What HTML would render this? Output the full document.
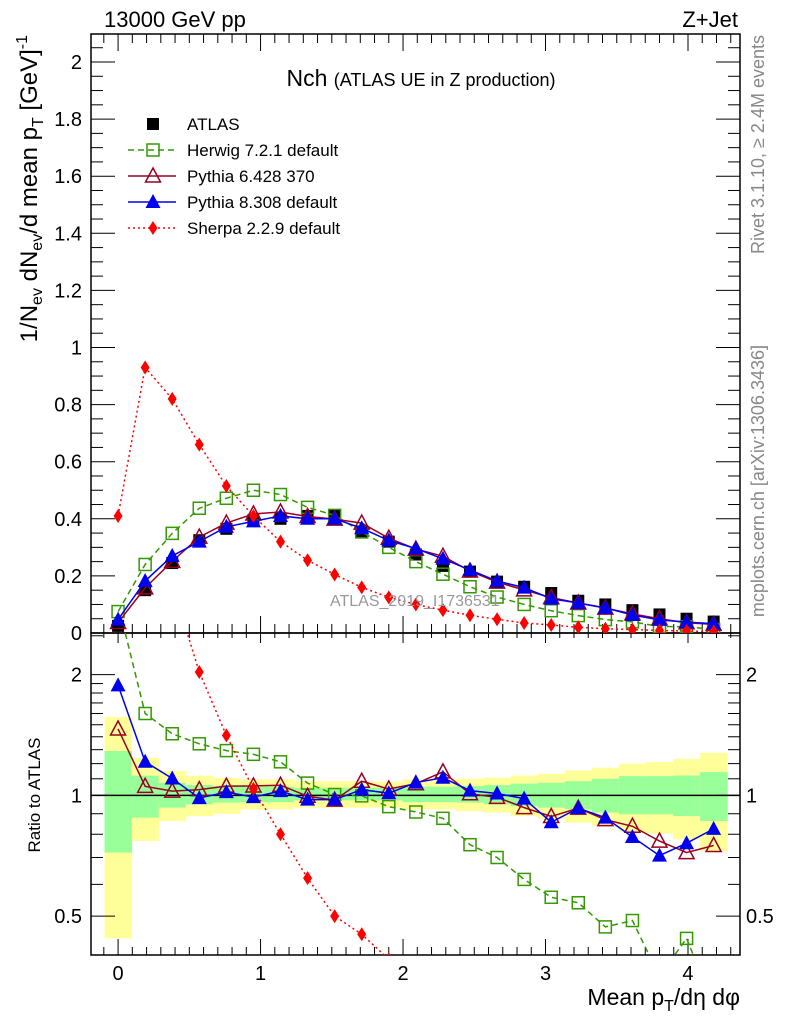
<!DOCTYPE html>
<html><head><meta charset="utf-8"><style>
html,body{margin:0;padding:0;background:#fff;overflow:hidden;width:786px;height:1024px;}
svg{display:block;font-family:"Liberation Sans","DejaVu Sans",sans-serif;}
</style></head><body>
<svg id="chart" width="786" height="1024" viewBox="0 0 786 1024" xmlns="http://www.w3.org/2000/svg">
</svg>
<script>
const xs = [0,0.19,0.38,0.57,0.76,0.95,1.14,1.33,1.52,1.71,1.9,2.09,2.28,2.47,2.66,2.85,3.04,3.23,3.42,3.61,3.8,3.99,4.18];
const atlas = [0.025,0.15,0.245,0.325,0.365,0.395,0.40,0.41,0.41,0.355,0.32,0.275,0.235,0.215,0.18,0.162,0.14,0.113,0.10,0.08,0.065,0.05,0.04];
const herwig = [0.075,0.24,0.349,0.437,0.472,0.50,0.485,0.44,0.412,0.354,0.30,0.25,0.206,0.162,0.126,0.10,0.078,0.061,0.047,0.039,0.023,0.022,0.012];
const pythia6 = [0.0366,0.158,0.251,0.336,0.385,0.417,0.424,0.408,0.399,0.385,0.332,0.294,0.269,0.217,0.178,0.151,0.124,0.105,0.087,0.067,0.050,0.036,0.030];
const pythia8 = [0.047,0.182,0.27,0.32,0.372,0.391,0.41,0.40,0.40,0.367,0.324,0.296,0.26,0.221,0.182,0.159,0.12,0.105,0.088,0.063,0.046,0.038,0.033];
const sherpa = [0.41,0.93,0.82,0.66,0.515,0.41,0.32,0.255,0.205,0.16,0.125,0.10,0.08,0.062,0.048,0.035,0.028,0.02,0.015,0.012,0.009,0.007,0.005];
const yellowUp = [1.57,1.24,1.15,1.12,1.105,1.096,1.096,1.085,1.085,1.085,1.081,1.096,1.096,1.10,1.107,1.121,1.132,1.154,1.172,1.20,1.21,1.234,1.277];
const yellowDn = [0.44,0.77,0.863,0.888,0.899,0.923,0.923,0.932,0.932,0.932,0.932,0.923,0.923,0.914,0.906,0.888,0.875,0.855,0.839,0.811,0.803,0.777,0.727];
const greenUp = [1.29,1.12,1.075,1.061,1.055,1.051,1.051,1.045,1.045,1.045,1.045,1.051,1.051,1.055,1.061,1.07,1.075,1.085,1.10,1.117,1.117,1.121,1.143];
const greenDn = [0.72,0.88,0.932,0.95,0.959,0.962,0.962,0.972,0.972,0.972,0.972,0.962,0.962,0.959,0.95,0.94,0.932,0.923,0.906,0.897,0.897,0.888,0.863];
const mainTicks = ["0","0.2","0.4","0.6","0.8","1","1.2","1.4","1.6","1.8","2"];
const xTicks = ["0","1","2","3","4"];
const ratioTicks = ["0.5","1","2"];

const svg = document.getElementById('chart');
const NS = 'http://www.w3.org/2000/svg';
const L=91, R=740, T=34, MB=633, RB=955;
const XMIN=-0.19, XMAX=4.365;
const X = v => L + (v - XMIN) / (XMAX - XMIN) * (R - L);
const YM = v => MB - v * 285.5;
const RMIN=0.40, RMAX=2.54;
const YR = r => RB - (Math.log(r) - Math.log(RMIN)) / (Math.log(RMAX) - Math.log(RMIN)) * (RB - MB);
const step = xs[1]-xs[0];

function mk(tag, attrs, parent){
  const e = document.createElementNS(NS, tag);
  for (const k in attrs) e.setAttribute(k, attrs[k]);
  (parent||svg).appendChild(e);
  return e;
}
function txt(s, x, y, size, anchor, fill, parent){
  const t = mk('text', {x:x, y:y, 'font-size':size, 'text-anchor':anchor||'start', fill:fill||'#000'}, parent);
  t.textContent = s;
  return t;
}

const defs = mk('defs', {});
const cm = mk('clipPath', {id:'cmain'}, defs); mk('rect', {x:L, y:T, width:R-L, height:MB-T}, cm);
const cr = mk('clipPath', {id:'cratio'}, defs); mk('rect', {x:L, y:MB, width:R-L, height:RB-MB}, cr);

const bands = mk('g', {'clip-path':'url(#cratio)'});


xs.forEach((x,i)=>{
  const x0 = X(x - step/2), x1 = X(x + step/2);
  const yb = mk('rect', {x:x0, y:YR(yellowUp[i]), width:x1-x0+0.5, height:YR(yellowDn[i])-YR(yellowUp[i]), fill:'#ffff99'}, bands);
  
  
  const gb = mk('rect', {x:x0, y:YR(greenUp[i]), width:x1-x0+0.5, height:YR(greenDn[i])-YR(greenUp[i]), fill:'#99ff99'}, bands);
  
  
});
mk('line', {x1:L, x2:R, y1:YR(1), y2:YR(1), stroke:'#000', 'stroke-width':1.5});

const fm = mk('rect', {x:L, y:T, width:R-L, height:MB-T, fill:'none', stroke:'#000', 'stroke-width':1.5});


const fr = mk('rect', {x:L, y:MB, width:R-L, height:RB-MB, fill:'none', stroke:'#000', 'stroke-width':1.5});



const ticksG = mk('g', {stroke:'#000', 'stroke-width':1});
for (let k=-1; k<=43; k++){
  const v = k/10; if (v < XMIN || v > XMAX) continue;
  const major = (k % 10 === 0);
  const px = X(v);
  const lm = major ? 17 : 9, lr = major ? 10 : 5;
  mk('line', {x1:px, x2:px, y1:T, y2:T+lm}, ticksG);
  mk('line', {x1:px, x2:px, y1:MB, y2:MB-lm}, ticksG);
  mk('line', {x1:px, x2:px, y1:MB, y2:MB+lr}, ticksG);
  mk('line', {x1:px, x2:px, y1:RB, y2:RB-lr*1.6}, ticksG);
}
for (let k=0; k<=41; k++){
  const v = k*0.05, py = YM(v);
  if (py < T) continue;
  const len = (k % 4 === 0) ? 24 : 12;
  mk('line', {x1:L, x2:L+len, y1:py, y2:py}, ticksG);
  mk('line', {x1:R, x2:R-len, y1:py, y2:py}, ticksG);
}
const rt = [0.4,0.5,0.6,0.7,0.8,0.9,1,1.1,1.2,1.3,1.4,1.5,1.6,1.7,1.8,1.9,2,2.5];
rt.forEach(r=>{
  const py = YR(r); if (py < MB || py > RB) return;
  const major = (r===0.5||r===1||r===2);
  const len = major ? 24 : 12;
  mk('line', {x1:L, x2:L+len, y1:py, y2:py}, ticksG);
  mk('line', {x1:R, x2:R-len, y1:py, y2:py}, ticksG);
});

mainTicks.forEach(s=>{ txt(s, 82, YM(parseFloat(s))+7, 20, 'end'); });
xTicks.forEach(s=>{ txt(s, X(parseFloat(s)), 980, 20, 'middle'); });
ratioTicks.forEach(s=>{
  txt(s, 82, YR(parseFloat(s))+7, 20, 'end');
  txt(s, 746, YR(parseFloat(s))+7, 20, 'start');
});

function marker(g, type, x, y, color){
  if (type==='sq') mk('rect', {x:x-6, y:y-6, width:12, height:12, fill:'#000'}, g);
  else if (type==='osq') mk('rect', {x:x-6, y:y-6, width:12, height:12, fill:'none', stroke:color, 'stroke-width':1.5}, g);
  else if (type==='otri') mk('polygon', {points:`${x},${y-8} ${x-7.5},${y+6} ${x+7.5},${y+6}`, fill:'none', stroke:color, 'stroke-width':1.5}, g);
  else if (type==='tri') mk('polygon', {points:`${x},${y-8} ${x-7.5},${y+6} ${x+7.5},${y+6}`, fill:color}, g);
  else if (type==='dia') mk('polygon', {points:`${x},${y-7} ${x-4.5},${y} ${x},${y+7} ${x+4.5},${y}`, fill:color}, g);
}
const series = [
  {name:'herwig', vals:herwig, color:'#339900', dash:'6,4', m:'osq'},
  {name:'pythia6', vals:pythia6, color:'#990022', dash:'', m:'otri'},
  {name:'pythia8', vals:pythia8, color:'#0000ee', dash:'', m:'tri'},
  {name:'sherpa', vals:sherpa, color:'#ff0000', dash:'2,3', m:'dia'}
];
const gm = mk('g', {'clip-path':'url(#cmain)'});


const gr = mk('g', {'clip-path':'url(#cratio)'});



const ga = mk('g', {}, gm);


xs.forEach((x,i)=>marker(ga, 'sq', X(x), YM(atlas[i]), '#000'));

series.forEach(s=>{
  const g1 = mk('g', {}, gm);
  
  
  const pts = xs.map((x,i)=>X(x)+','+YM(s.vals[i])).join(' ');
  mk('polyline', {points:pts, fill:'none', stroke:s.color, 'stroke-width':1.5, 'stroke-dasharray':s.dash}, g1);
  xs.forEach((x,i)=>marker(g1, s.m, X(x), YM(s.vals[i]), s.color));
  const g2 = mk('g', {}, gr);
  
  
  const pts2 = xs.map((x,i)=>X(x)+','+YR(s.vals[i]/atlas[i])).join(' ');
  mk('polyline', {points:pts2, fill:'none', stroke:s.color, 'stroke-width':1.5, 'stroke-dasharray':s.dash}, g2);
  xs.forEach((x,i)=>marker(g2, s.m, X(x), YR(s.vals[i]/atlas[i]), s.color));
});

const legend = mk('g', {});


const legRows = [
  {label:'ATLAS', m:'sq', color:'#000', dash:null},
  {label:'Herwig 7.2.1 default', m:'osq', color:'#339900', dash:'6,4'},
  {label:'Pythia 6.428 370', m:'otri', color:'#990022', dash:''},
  {label:'Pythia 8.308 default', m:'tri', color:'#0000ee', dash:''},
  {label:'Sherpa 2.2.9 default', m:'dia', color:'#ff0000', dash:'2,3'}
];
const legY = [124,150,176,202,228];
legRows.forEach((r,i)=>{
  const g = mk('g', {}, legend);
  
  
  const y = legY[i];
  if (r.dash !== null) mk('line', {x1:128, x2:176, y1:y, y2:y, stroke:r.color, 'stroke-width':1.5, 'stroke-dasharray':r.dash}, g);
  marker(g, r.m, 153, y, r.color);
  txt(r.label, 187, y+6, 17, 'start', '#000', g);
});

const t1 = txt('13000 GeV pp', 104, 27, 22);  
const t2 = txt('Z+Jet', 738, 27, 22, 'end');  
const tt = mk('text', {x:421, y:86, 'text-anchor':'middle', 'font-size':23});
 
tt.innerHTML = 'Nch <tspan font-size="18">(ATLAS UE in Z production)</tspan>';
const wm = txt('ATLAS_2019_I1736531', 330, 606, 16, 'start', '#999');  
const rv = mk('text', {x:0, y:0, 'font-size':18, fill:'#888', 'text-anchor':'end', transform:'translate(764,35) rotate(-90)'});
rv.textContent = 'Rivet 3.1.10, \u2265 2.4M events';  
const mc = mk('text', {x:0, y:0, 'font-size':18, fill:'#888', 'text-anchor':'end', transform:'translate(764,345) rotate(-90)'});
mc.textContent = 'mcplots.cern.ch [arXiv:1306.3436]';  
const yt = mk('text', {x:0, y:0, 'font-size':24, 'text-anchor':'end', transform:'translate(37,35) rotate(-90)'});
 
yt.innerHTML = '1/N<tspan font-size="16" dy="5">ev</tspan><tspan dy="-5"> dN</tspan><tspan font-size="16" dy="5">ev</tspan><tspan dy="-5">/d mean p</tspan><tspan font-size="16" dy="6">T</tspan><tspan dy="-6"> [GeV]</tspan><tspan font-size="16" dy="-10">-1</tspan>';
const rtit = mk('text', {x:0, y:0, 'font-size':17, 'text-anchor':'middle', transform:'translate(40,795) rotate(-90)'});
rtit.textContent = 'Ratio to ATLAS';  
const xt = mk('text', {x:740, y:1005, 'font-size':23, 'text-anchor':'end'});
 
xt.innerHTML = 'Mean p<tspan font-size="16" dy="6">T</tspan><tspan dy="-6">/d\u03b7 d\u03c6</tspan>';
</script>
</body></html>
